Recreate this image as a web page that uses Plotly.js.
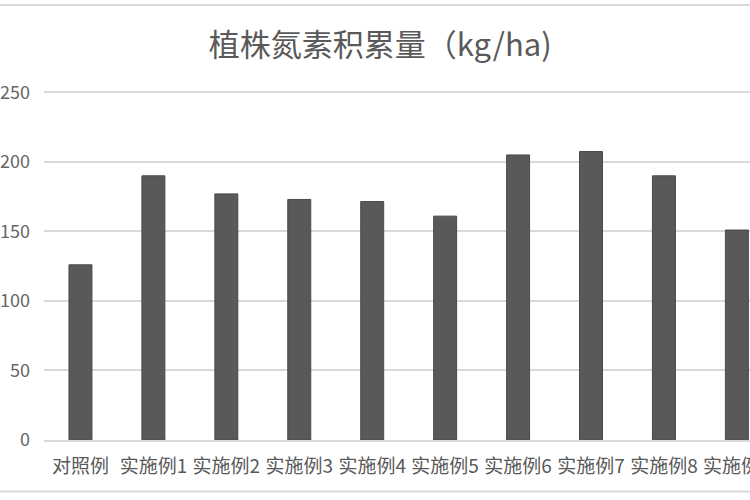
<!DOCTYPE html>
<html>
<head>
<meta charset="utf-8">
<script src="https://cdn.plot.ly/plotly-3.0.1.min.js"></script>
<style>
  html, body { margin: 0; padding: 0; background: #fff; overflow: hidden; }
  #plot { width: 750px; height: 500px; }
</style>
</head>
<body>
<div id="plot"></div>
<script>
// categories and values
let categories = ['对照例', '实施例1', '实施例2', '实施例3', '实施例4',
                  '实施例5', '实施例6', '实施例7', '实施例8', '实施例9'];
let nitrogen = [126, 190, 177, 173, 171.5, 161, 205, 207.5, 190, 151];
let yTicks = [0, 50, 100, 150, 200, 250];

let font = 'Noto Sans CJK SC, Noto Sans, sans-serif';

let trace = {
  x: categories,
  y: nitrogen,
  type: 'bar',
  marker: {
    color: '#595959',
    line: {color: '#4a4a4a', width: 1}
  },
  hoverinfo: 'x+y'
};

let layout = {
  width: 750,
  height: 500,
  margin: {l: 44, r: 0, t: 91, b: 60},
  paper_bgcolor: '#ffffff',
  plot_bgcolor: '#ffffff',
  showlegend: false,
  bargap: 0.685,
  title: {
    text: '植株氮素积累量（kg/ha)',
    font: {family: font, size: 31, color: '#595959'},
    x: 0.507,
    xref: 'container',
    xanchor: 'center',
    y: 0.91,
    yref: 'container',
    yanchor: 'middle'
  },
  xaxis: {
    type: 'category',
    range: [-0.5, 9.18],
    showgrid: false,
    showline: true,
    linecolor: '#d9d9d9',
    linewidth: 2,
    ticks: '',
    ticklabelstandoff: 8,
    tickfont: {family: font, size: 19, color: '#595959'},
    fixedrange: true
  },
  yaxis: {
    range: [0, 251],
    tickvals: yTicks,
    showgrid: true,
    gridcolor: '#d9d9d9',
    gridwidth: 2,
    zeroline: false,
    showline: false,
    ticks: '',
    ticklabelstandoff: 13,
    tickfont: {family: font, size: 18, color: '#666666'},
    fixedrange: true
  },
  // chart frame edges visible at top and bottom of the crop
  shapes: [
    {type: 'line', xref: 'paper', yref: 'paper', x0: -0.1, x1: 1.1, y0: 1.2464, y1: 1.2464,
     line: {color: '#d9d9d9', width: 2}},
    {type: 'line', xref: 'paper', yref: 'paper', x0: -0.1, x1: 1.1, y0: -0.1476, y1: -0.1476,
     line: {color: '#d9d9d9', width: 2}}
  ]
};

Plotly.newPlot('plot', [trace], layout, {displayModeBar: false, staticPlot: true});
</script>
</body>
</html>
